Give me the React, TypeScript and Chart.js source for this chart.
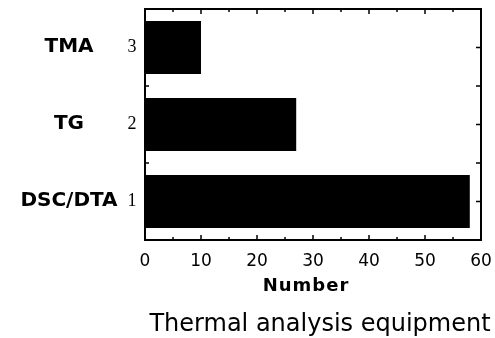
import React, { useEffect, useRef } from "react";
import { Chart, registerables } from "chart.js";

Chart.register(...registerables);

// ---- data ----
const categories = ["TMA", "TG", "DSC/DTA"];
const indexLabels = ["3", "2", "1"];
const counts = [10, 27, 58];
const xTicks = [0, 10, 20, 30, 40, 50, 60];
const xMinorTicks = [5, 15, 25, 35, 45, 55];
const xTitle = "Number";
const chartTitle = "Thermal analysis equipment";

const framePlugin = {
  id: "framePlugin",
  afterDatasetsDraw(chart: any) {
    const { ctx, chartArea: a, scales } = chart;
    const xs = scales.x;
    const ys = scales.y;
    ctx.save();
    ctx.strokeStyle = "#000";
    ctx.fillStyle = "#000";

    // frame
    ctx.lineWidth = 2;
    ctx.strokeRect(a.left, a.top, a.right - a.left, a.bottom - a.top);

    // inward ticks
    ctx.lineWidth = 1.5;
    ctx.beginPath();
    xTicks.forEach((v) => {
      const px = xs.getPixelForValue(v);
      ctx.moveTo(px, a.top);
      ctx.lineTo(px, a.top + 5);
      ctx.moveTo(px, a.bottom);
      ctx.lineTo(px, a.bottom - 5);
    });
    xMinorTicks.forEach((v) => {
      const px = xs.getPixelForValue(v);
      ctx.moveTo(px, a.top);
      ctx.lineTo(px, a.top + 3);
      ctx.moveTo(px, a.bottom);
      ctx.lineTo(px, a.bottom - 3);
    });
    categories.forEach((_, i) => {
      const py = ys.getPixelForValue(i);
      ctx.moveTo(a.right, py);
      ctx.lineTo(a.right - 5, py);
      ctx.moveTo(a.left, py);
      ctx.lineTo(a.left + 5, py);
      if (i > 0) {
        const pb = (ys.getPixelForValue(i - 1) + py) / 2;
        ctx.moveTo(a.right, pb);
        ctx.lineTo(a.right - 5, pb);
        ctx.moveTo(a.left, pb);
        ctx.lineTo(a.left + 4, pb);
      }
    });
    ctx.stroke();

    // x tick labels
    ctx.font = "17px 'DejaVu Sans'";
    ctx.textAlign = "center";
    ctx.textBaseline = "middle";
    xTicks.forEach((v) => {
      ctx.fillText(String(v), xs.getPixelForValue(v), a.bottom + 22);
    });

    // y labels
    categories.forEach((name, i) => {
      const py = ys.getPixelForValue(i);
      ctx.font = "bold 20px 'DejaVu Sans'";
      ctx.textAlign = "center";
      ctx.textBaseline = "middle";
      ctx.fillText(name, a.left - 76, py - 1);
      ctx.font = "18px 'Liberation Serif'";
      ctx.fillText(indexLabels[i], a.left - 13, py);
    });

    // axis title
    const cx = (a.left + a.right) / 2;
    ctx.font = "bold 18px 'DejaVu Sans'";
    ctx.textBaseline = "alphabetic";
    try {
      (ctx as any).letterSpacing = "1px";
    } catch (e) {}
    ctx.fillText(xTitle, cx - 7, a.bottom + 51);
    try {
      (ctx as any).letterSpacing = "0px";
    } catch (e) {}

    // chart title
    ctx.font = "24px 'DejaVu Sans'";
    ctx.fillText(chartTitle, cx + 7, a.bottom + 91);
    ctx.restore();
  },
};

export default function App() {
  const ref = useRef<HTMLCanvasElement | null>(null);
  useEffect(() => {
    if (!ref.current) return;
    const chart = new Chart(ref.current, {
      type: "bar",
      data: {
        labels: categories,
        datasets: [
          {
            data: counts,
            backgroundColor: "#000",
            borderWidth: 0,
            barPercentage: 0.69,
            categoryPercentage: 1,
          },
        ],
      },
      options: {
        indexAxis: "y",
        responsive: false,
        maintainAspectRatio: false,
        animation: false,
        layout: { padding: { left: 145, top: 9, right: 14, bottom: 98 } },
        plugins: { legend: { display: false }, tooltip: { enabled: false } },
        scales: {
          x: { type: "linear", min: 0, max: 60, display: false },
          y: { type: "category", offset: true, display: false },
        },
      },
      plugins: [framePlugin],
    });
    return () => chart.destroy();
  }, []);
  return (
    <div style={{ position: "absolute", left: 0, top: 0, width: 495, height: 338, background: "#fff" }}>
      <canvas ref={ref} width={495} height={338} style={{ display: "block", width: 495, height: 338 }} />
    </div>
  );
}
